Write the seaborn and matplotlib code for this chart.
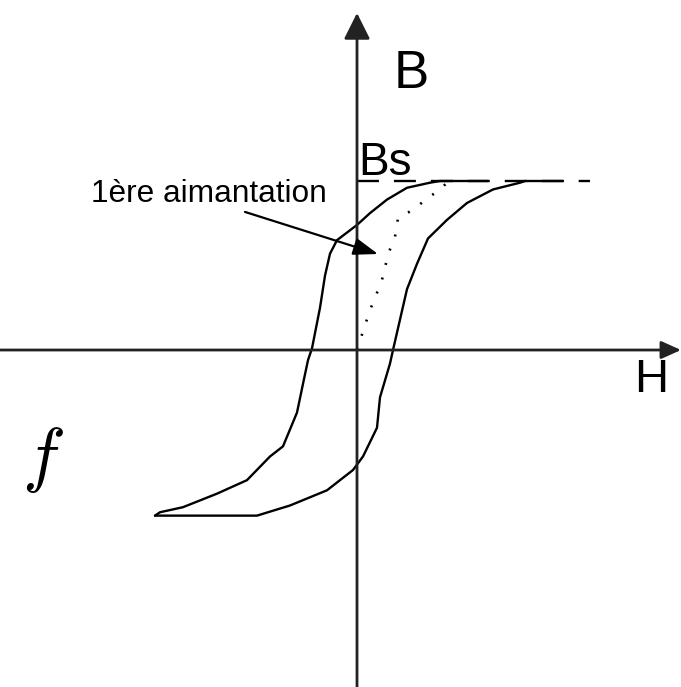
import numpy as np
import pandas as pd
import matplotlib
matplotlib.use("Agg")
import matplotlib.pyplot as plt
import seaborn as sns

# Hysteresis loop (H arbitrary units, B relative to Bs)
desc_H = [1.31, 0.83, 0.73, 0.50, 0.30, 0.13, 0.00, -0.20, -0.27, -0.32, -0.37,
          -0.45, -0.49, -0.54, -0.60, -0.74, -0.87, -1.10, -1.40, -1.74, -1.97, -2.02]
desc_B = [1.00, 1.00, 0.99, 0.96, 0.89, 0.81, 0.74, 0.65, 0.57, 0.44, 0.25,
          0.01, -0.06, -0.20, -0.37, -0.57, -0.63, -0.77, -0.85, -0.93, -0.96, -0.98]

asc_H = [-2.02, -1.00, -0.67, -0.30, -0.04, 0.06, 0.20, 0.23, 0.33, 0.36, 0.43,
         0.50, 0.60, 0.71, 0.90, 1.10, 1.36, 1.63, 1.68, 2.06]
asc_B = [-0.98, -0.98, -0.92, -0.83, -0.71, -0.63, -0.46, -0.28, -0.08, 0.00, 0.18,
         0.36, 0.51, 0.66, 0.77, 0.87, 0.95, 0.99, 1.00, 1.00]

# first magnetisation curve (dotted)
first_H = [0.00, 0.06, 0.11, 0.17, 0.24, 0.28, 0.32, 0.38, 0.41, 0.56, 0.71, 0.83, 0.90]
first_B = [0.00, 0.11, 0.20, 0.30, 0.39, 0.49, 0.58, 0.67, 0.78, 0.83, 0.90, 0.95, 0.99]

# saturation level
sat_H = [0.00, 2.33]
sat_B = [1.00, 1.00]

H_LIM = (-3.57, 3.24)
B_LIM = (-1.994, 2.071)

sns.set_theme(style="white")
plt.rcParams['font.family'] = ['Liberation Sans', 'DejaVu Sans']
plt.rcParams['mathtext.fontset'] = 'cm'
plt.rcParams['lines.scale_dashes'] = False

fig = plt.figure(figsize=(6.81, 6.87), dpi=100)
ax = fig.add_axes([0, 0, 1, 1])
ax.set_xlim(*H_LIM)
ax.set_ylim(*B_LIM)
ax.set_axis_off()

axis_col = '#222222'
# H axis
ax.annotate('', xy=(H_LIM[1], 0), xytext=(H_LIM[0], 0),
            arrowprops=dict(arrowstyle='-|>,head_length=1.0,head_width=0.45',
                            mutation_scale=12, lw=2.0, color=axis_col,
                            shrinkA=0, shrinkB=0))
# B axis
ax.annotate('', xy=(0, 1.994), xytext=(0, B_LIM[0]),
            arrowprops=dict(arrowstyle='-|>,head_length=1.0,head_width=0.5',
                            mutation_scale=16, lw=2.0, color=axis_col,
                            shrinkA=0, shrinkB=0))

loop_kw = dict(estimator=None, sort=False, color='black', linewidth=1.7, ax=ax)
sns.lineplot(data=pd.DataFrame({'H': desc_H, 'B': desc_B}), x='H', y='B', **loop_kw)
sns.lineplot(data=pd.DataFrame({'H': asc_H, 'B': asc_B}), x='H', y='B', **loop_kw)
sns.lineplot(data=pd.DataFrame({'H': first_H, 'B': first_B}), x='H', y='B',
             estimator=None, sort=False, color='black', linewidth=1.9,
             linestyle=(0, (1.4, 9.4)), ax=ax)
sns.lineplot(data=pd.DataFrame({'H': sat_H, 'B': sat_B}), x='H', y='B',
             estimator=None, sort=False, color='black', linewidth=1.7,
             linestyle=(0, (15.8, 10.8)), ax=ax)

# labels
ax.text(0.37, 1.55, 'B', fontsize=38, color='black', va='baseline', ha='left')
ax.text(0.01, 1.036, 'Bs', fontsize=33, color='black', va='baseline', ha='left')
ax.text(2.77, -0.249, 'H', fontsize=34, color='black', va='baseline', ha='left')
ax.text(-2.66, 0.876, '1ère aimantation', fontsize=22.8, color='black',
        va='baseline', ha='left')
ax.text(-3.14, -0.65, r'$f$', fontsize=52, color='black', va='center', ha='center')

# arrow to the first magnetisation curve
ax.annotate('', xy=(0.21, 0.568), xytext=(-1.12, 0.817),
            arrowprops=dict(arrowstyle='-|>,head_length=1.0,head_width=0.35',
                            mutation_scale=15, lw=1.6, color='black',
                            shrinkA=0, shrinkB=0))

fig.savefig('out.png', dpi=100, facecolor='white')
plt.close(fig)
